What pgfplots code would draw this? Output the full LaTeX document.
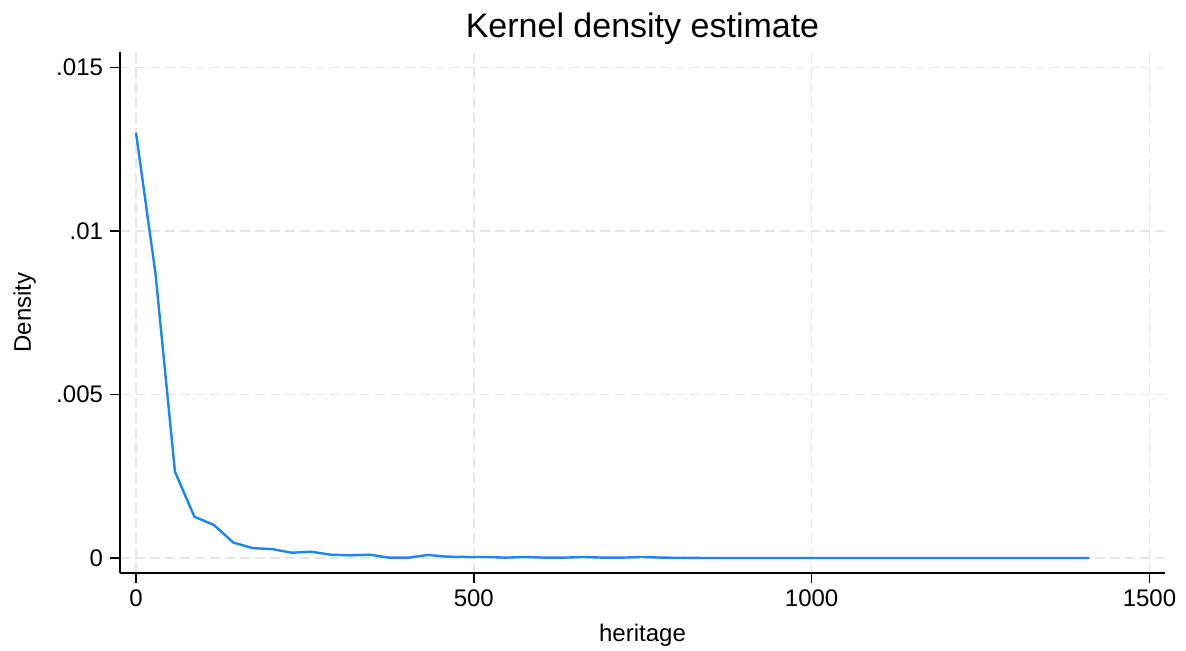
\documentclass[border=0pt]{standalone}
\usepackage{pgfplots}
\pgfplotsset{compat=1.18}
\usepackage{fontspec}
\setmainfont{Liberation Sans}
\definecolor{stcone}{RGB}{26,133,255}
\definecolor{gridc}{RGB}{230,230,230}
\begin{document}
\begin{tikzpicture}
\useasboundingbox (0,0) rectangle (593bp,325.5bp);
\begin{axis}[
  at={(60bp,39bp)}, anchor=south west,
  scale only axis, width=522.5bp, height=260.5bp,
  xmin=-23.7, xmax=1523, ymin=-0.00046, ymax=0.01547,
  axis x line=bottom, axis y line=left,
  axis line style={-, black, line width=0.8bp},
  tick align=outside, major tick length=5bp,
  tick style={black, line width=0.8bp},
  xtick={0,500,1000,1500}, xticklabels={0,500,1000,1500},
  ytick={0,0.005,0.01,0.015}, yticklabels={0,.005,.01,.015},
  scaled y ticks=false,
  /pgf/number format/assume math mode=true,
  ticklabel style={font=\fontsize{12bp}{14bp}\selectfont},
  grid=major,
  major grid style={gridc, dash pattern=on 5bp off 2.5bp, line width=0.7bp},
  title={Kernel density estimate},
  title style={at={(0.5,1)}, anchor=base, yshift=1.5bp, font=\fontsize{17bp}{20bp}\selectfont},
  xlabel={heritage},
  xlabel style={at={(axis description cs:0.5,0)}, anchor=base, yshift=-34bp, font=\fontsize{12bp}{14bp}\selectfont},
  ylabel={Density},
  ylabel style={at={(axis description cs:-0.0852,0.5)}, anchor=base, rotate=0, font=\fontsize{12bp}{14bp}\selectfont},
]
\addplot[stcone, line width=1.2bp, no markers] coordinates {
(0,0.0130) (28.8,0.0087) (57.6,0.00264) (86.4,0.00126) (115.2,0.00101)
(144,0.00047) (172.8,0.00030) (201.6,0.00027) (230.4,0.00016) (259.2,0.00019)
(288,0.00010) (316.8,0.00008) (345.6,0.00010) (374.4,0.00001) (403.2,0.00001)
(432,0.00009) (460.8,0.00004) (489.6,0.00003) (518.4,0.00003) (547.2,0.00001)
(576,0.00003) (604.8,0.00001) (633.6,0.00001) (662.4,0.00003) (691.2,0.00001)
(720,0.00001) (748.8,0.00003) (777.6,0.00001) (806.4,0.000005) (835.2,0)
(864,0) (1000,0) (1200,0) (1411.2,0)
};
\end{axis}
\end{tikzpicture}
\end{document}
